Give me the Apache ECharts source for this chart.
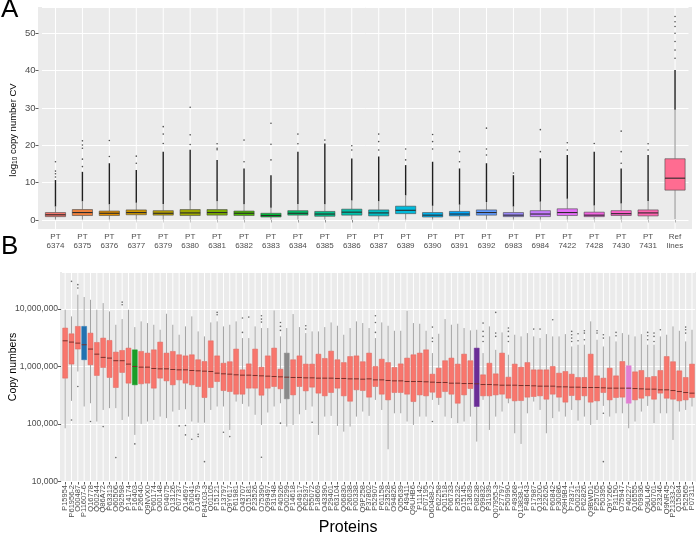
<!DOCTYPE html>
<html>
<head>
<meta charset="utf-8">
<script src="https://cdn.jsdelivr.net/npm/echarts@6/dist/echarts.min.js"></script>
<style>
html,body{margin:0;padding:0;background:#fff;}
#chart{width:696px;height:538px;}
</style>
</head>
<body>
<div id="chart"></div>
<script>
// ---------------- Panel A data ----------------
const catsA = ['PT 6374','PT 6375','PT 6376','PT 6377','PT 6379','PT 6380','PT 6381','PT 6382','PT 6383','PT 6384','PT 6385','PT 6386','PT 6387','PT 6389','PT 6390','PT 6391','PT 6392','PT 6983','PT 6984','PT 7422','PT 7428','PT 7430','PT 7431','Ref lines'];
// [lower whisker, Q1, median, Q3, upper whisker]
const statsA = [
  [0.1,0.9,1.4,2.0,3.6],[0.1,1.2,2.0,2.8,5.0],[0.1,1.2,1.8,2.4,4.2],[0.1,1.4,2.0,2.7,4.6],
  [0.1,1.3,1.8,2.5,4.3],[0.1,1.2,1.9,2.8,5.2],[0.1,1.3,2.0,2.8,5.0],[0.1,1.2,1.8,2.4,4.2],
  [0.1,0.8,1.2,1.8,3.3],[0.1,1.3,1.8,2.5,4.3],[0.1,1.0,1.6,2.3,4.2],[0.1,1.3,2.1,2.9,5.2],
  [0.1,1.1,1.9,2.7,5.0],[0.1,1.7,2.6,3.7,6.6],[0.1,0.8,1.3,2.0,3.8],[0.1,1.1,1.6,2.3,4.1],
  [0.1,1.3,2.0,2.7,4.8],[0.1,0.9,1.3,2.0,3.6],[0.1,0.9,1.6,2.5,4.9],[0.1,1.2,2.0,3.0,5.7],
  [0.1,0.9,1.3,2.1,3.9],[0.1,1.2,1.7,2.5,4.4],[0.1,1.1,1.9,2.7,5.1],[0.2,8.0,11.2,16.4,29.5]
];
// top of the densely packed outlier column
const denseTopA = [10.7,12.9,15.2,13.4,18.3,18.8,16.1,13.8,12.0,18.3,20.5,16.5,17.0,14.7,15.6,13.8,15.2,12.0,16.5,17.4,18.3,13.8,17.4,40.2];
// sparse outliers above the dense column
const sparseA = [
  [11.5,12.4,13.1,15.6],[14.3,16.3,19.2,20.1,21.2],[17.0,21.3],[15.2,17.1],
  [20.5,23.0,25.0],[20.2,22.8,30.2],[18.8,19.2,20.4],[15.6,21.4],
  [16.1,20.3,25.9],[20.4,23.0],[21.4],[18.75,19.9],
  [18.75,21.0,23.0],[16.1,19.0],[19.0,21.0,22.9],[15.6,18.3],
  [17.4,19.0,24.6],[12.6],[18.3,24.2],[18.75,20.7],
  [20.5],[15.2,18.3,23.8],[18.75,20.4],[43.3,45.5,47.8,50.0,51.8,53.1,54.5]
];

// ---------------- Panel B data ----------------
const proteins = ['P15954','P61956-2','O00487','P11607-6','Q16778','Q00244','Q86A72','P63313','O60506','Q92598',
  'P14174','P16403','P26640','Q9NVX0','P60174','O00148','P04075','Q13126','P07737','Q14697',
  'P30041','O14579','P84103-3','Q01105','P15121','P13797','Q9Y617','P61981','O43707','Q15181',
  'P23526','O75390','Q99497','P31948','P40926','O00299','P14618','Q04917','P62937','P55072',
  'P18669','O43390','P29401','P63104','Q06830','P26038','P00338','Q9P258','P37802','P52907',
  'P61158','P23528','O94826','Q05639','P49411','Q9UHB6','P11142','P07195','O60488-2','P62258',
  'Q01518','P06733','P35232','O15145','P13639','P08238','Q99832','P31939','Q07955-3','P27797',
  'P50990','P49368','Q13838-1','P48643','P17987','Q13200','P22626','P60842','P30086','Q9H9B4',
  'P78371','O00231','P62826','Q9BWD1','P25705','P50395','Q9Y266','P31150','O75947','P40227',
  'Q16555','P09936','Q9UL46','O60701','P23246','Q9NR45','P21333-2','Q15084','P52565','P07311'];
// [lower whisker, Q1, median, Q3, upper whisker] copy numbers
const statsB = [
  [83900,626000,2800000,4670000,9730000],[252000,1100000,2660000,3710000,7450000],[818000,2010000,2550000,4990000,17800000],[201000,1310000,2390000,4990000,16200000],[229000,1070000,2010000,3810000,14500000],
  [110000,697000,1640000,2620000,9730000],[175000,961000,1440000,3120000,12700000],[188000,643000,1400000,2840000,9100000],[188000,430000,1260000,1780000,5330000],[117000,786000,1260000,1900000,6690000],
  [134000,512000,1100000,2090000,9730000],[64300,479000,1000000,1950000,4850000],[100000,499000,973000,1830000,6100000],[110000,512000,973000,1710000,5700000],[117000,419000,923000,1950000,5330000],
  [134000,626000,910000,2660000,4360000],[126000,562000,910000,1710000,8290000],[164000,479000,886000,1830000,5330000],[175000,585000,874000,1600000,3570000],[180000,512000,874000,1530000,4990000],
  [110000,479000,851000,1600000,7450000],[105000,448000,840000,1310000,4080000],[105000,288000,829000,1220000,3340000],[175000,430000,818000,2800000,5850000],[201000,547000,765000,1530000,6100000],
  [201000,381000,745000,1140000,4990000],[78500,366000,735000,1210000,5330000],[245000,329000,716000,2010000,6100000],[223000,329000,706000,874000,3120000],[201000,419000,706000,1110000,3120000],
  [144000,419000,697000,2010000,4990000],[96000,316000,687000,973000,4670000],[158000,419000,678000,1530000,4670000],[201000,448000,669000,2090000,9480000],[229000,408000,660000,898000,3340000],
  [89800,273000,651000,1710000,4670000],[96000,320000,643000,1310000,8180000],[147000,448000,643000,1530000,4850000],[175000,376000,634000,1100000,3810000],[201000,436000,634000,1100000,4080000],
  [64300,343000,626000,1640000,4080000],[134000,308000,626000,1380000,4850000],[138000,352000,626000,1850000,5850000],[92200,419000,618000,1310000,5120000],[73400,308000,618000,1170000,3570000],
  [89800,248000,609000,1490000,4670000],[134000,392000,609000,1530000,6100000],[164000,381000,601000,1210000,5700000],[138000,292000,609000,1710000,4670000],[262000,448000,585000,1000000,3120000],
  [175000,329000,585000,1340000,5850000],[36100,262000,570000,1170000,5120000],[153000,352000,562000,961000,4190000],[153000,352000,562000,1110000,4190000],[110000,329000,547000,1400000,9350000],
  [96000,245000,547000,1600000,5700000],[134000,320000,547000,1710000,5550000],[134000,308000,541000,1950000,4190000],[262000,356000,533000,735000,1710000],[214000,288000,526000,935000,3710000],
  [134000,366000,526000,1260000,6690000],[126000,329000,512000,1400000,5330000],[103000,229000,512000,1100000,5550000],[110000,320000,505000,1640000,4670000],[134000,413000,505000,1260000,4250000],
  [49200,201000,499000,2090000,4360000],[262000,308000,485000,716000,1710000],[78500,308000,485000,1140000,4990000],[134000,320000,479000,745000,1950000],[164000,329000,472000,1710000,3920000],
  [229000,280000,472000,651000,1600000],[68700,252000,472000,1100000,3570000],[44800,255000,466000,973000,3340000],[153000,292000,466000,1170000,3810000],[245000,300000,460000,874000,3340000],
  [175000,308000,454000,874000,3120000],[68700,269000,454000,874000,3660000],[126000,329000,454000,1000000,3340000],[164000,292000,442000,765000,3340000],[134000,239000,442000,818000,3660000],
  [175000,312000,436000,735000,2230000],[114000,262000,436000,643000,2390000],[134000,308000,430000,643000,2390000],[96000,239000,430000,1640000,6100000],[117000,252000,430000,687000,2920000],
  [206000,352000,425000,626000,2230000],[134000,262000,419000,935000,3340000],[153000,288000,419000,687000,2730000],[153000,292000,419000,1220000,3810000],[83900,229000,419000,1030000,3570000],
  [110000,262000,413000,807000,3340000],[164000,280000,408000,851000,3660000],[206000,308000,403000,643000,2390000],[103000,269000,403000,669000,2390000],[153000,343000,392000,851000,3340000],
  [153000,280000,392000,1490000,3570000],[52600,269000,381000,1210000,4990000],[164000,252000,366000,840000,4190000],[175000,262000,352000,643000,2730000],[201000,288000,343000,1100000,4360000]
];
// outliers: [protein index (0-based), copy number]
const outliersB = [
  [1,30400000],[1,117000],[2,26600000],[2,23200000],[2,448000],[4,110000],[6,89800],[8,25900],[9,13200000],[9,11900000],
  [11,44800],[18,92200],[19,93500],[19,64300],[20,54000],[21,66100],[21,60100],[22,22000],[24,8750000],[24,7960000],
  [25,71500],[26,60100],[28,6970000],[28,3920000],[29,7250000],[31,7650000],[31,6690000],[31,5930000],[31,26200],
  [34,5850000],[34,4990000],[34,4250000],[34,103000],[38,5120000],[38,4480000],[39,107000],
  [49,7650000],[49,5850000],[49,3920000],[58,4850000],[58,3120000],[58,2730000],[58,110000],
  [66,5700000],[66,4080000],[66,3340000],[66,2730000],[68,8750000],[68,3810000],[68,3340000],
  [70,4670000],[70,4080000],[70,3340000],[70,2730000],[74,4480000],[75,4480000],[77,6520000],
  [80,4080000],[80,3570000],[80,3120000],[80,2730000],[81,3710000],[81,2800000],[82,4190000],[82,3810000],[82,2920000],
  [84,4190000],[84,3810000],[85,3570000],[85,3120000],[85,153000],[85,22000],[87,3920000],[87,3430000],
  [92,3920000],[92,3430000],[92,2920000],[93,3810000],[93,3340000],[93,2730000],[94,4360000],
  [98,4850000],[98,4360000],[98,3810000]
];
// highlighted proteins (index -> fill)
const highlightB = {3:'#2272b0', 11:'#1a9d27', 35:'#8a8a8a', 65:'#6a2d96', 89:'#e07fd3'};

// ---------------- helpers ----------------
function hcl(h, c, l) {
  const hr = h * Math.PI / 180;
  const U = c * Math.cos(hr), V = c * Math.sin(hr);
  const Xn = 95.047, Yn = 100, Zn = 108.883;
  const Y = l > 8 ? Yn * Math.pow((l + 16) / 116, 3) : Yn * l / 903.3;
  const t = Xn + 15 * Yn + 3 * Zn;
  const un = 4 * Xn / t, vn = 9 * Yn / t;
  const u = U / (13 * l) + un, v = V / (13 * l) + vn;
  const X = 9 * Y * u / (4 * v);
  const Z = -X / 3 - 5 * Y + 3 * Y / v;
  const x = X / 100, y = Y / 100, z = Z / 100;
  const lin = [3.240479*x - 1.537150*y - 0.498535*z, -0.969256*x + 1.875992*y + 0.041556*z, 0.055648*x - 0.204043*y + 1.057311*z];
  return '#' + lin.map(ch => {
    let g = ch <= 0.0031308 ? 12.92 * ch : 1.055 * Math.pow(ch, 1 / 2.4) - 0.055;
    g = Math.max(0, Math.min(1, g));
    return Math.round(g * 255).toString(16).padStart(2, '0');
  }).join('');
}
const colorsA = catsA.map((c, i) => hcl(15 + 15 * i, 100, 65));

function boxRender(stats, fill, st) {
  return function (params, api) {
    const i = params.dataIndex;
    const s = stats[i];
    const band = params.coordSys.width / stats.length;
    const w = band * st.ratio;
    const p = v => api.coord([i, v]);
    const lo = p(s[0]), q1 = p(s[1]), md = p(s[2]), q3 = p(s[3]), hi = p(s[4]);
    const x = md[0];
    return { type: 'group', children: [
      { type: 'line', shape: { x1: x, y1: hi[1], x2: x, y2: q3[1] }, style: { stroke: st.whisker, lineWidth: st.wl } },
      { type: 'line', shape: { x1: x, y1: q1[1], x2: x, y2: lo[1] }, style: { stroke: st.whisker, lineWidth: st.wl } },
      { type: 'rect', shape: { x: x - w / 2, y: q3[1], width: w, height: q1[1] - q3[1] }, style: { fill: fill(i), stroke: st.border(i), lineWidth: st.bw } },
      { type: 'line', shape: { x1: x - w / 2, y1: md[1], x2: x + w / 2, y2: md[1] }, style: { stroke: st.median, lineWidth: st.ml } }
    ] };
  };
}
function vGridRender(stats) {
  return function (params, api) {
    const i = params.dataIndex;
    const cs = params.coordSys;
    const x = api.coord([i, stats[i][2]])[0];
    return { type: 'line', shape: { x1: x, y1: cs.y, x2: x, y2: cs.y + cs.height }, style: { stroke: '#ffffff', lineWidth: 1 } };
  };
}

const FONT = 'Liberation Sans';
const fmtComma = v => {
  const e = Math.log10(v);
  if (Math.abs(e - Math.round(e)) > 1e-6) return '';
  return Math.round(v).toLocaleString('en-US');
};

const outAData = [];
sparseA.forEach((arr, i) => arr.forEach(v => outAData.push([i, v])));

const option = {
  animation: false,
  textStyle: { fontFamily: FONT },
  graphic: [
    { type: 'rect', shape: { x: 38, y: 7, width: 654, height: 222 }, style: { fill: '#ebebeb' }, z: -100 },
    { type: 'rect', shape: { x: 60, y: 272, width: 636, height: 210 }, style: { fill: '#ebebeb' }, z: -100 },
    { type: 'text', style: { text: 'A', x: 1, y: 10, font: 'normal 26px Liberation Sans', fill: '#000', verticalAlign: 'middle' } },
    { type: 'text', style: { text: 'B', x: 1, y: 247, font: 'normal 26px Liberation Sans', fill: '#000', verticalAlign: 'middle' } }
  ],
  grid: [
    { left: 41.5, right: 7.5, top: 7, height: 222 },
    { left: 61, right: 0, top: 272, height: 210 }
  ],
  xAxis: [
    { type: 'category', gridIndex: 0, data: catsA, boundaryGap: true,
      axisLine: { show: false }, axisTick: { show: true, alignWithLabel: true, length: 2.5, lineStyle: { color: '#333', width: 0.8 } },
      splitLine: { show: false },
      axisLabel: { interval: 0, fontSize: 8, lineHeight: 9.5, color: '#4d4d4d', margin: 3, fontFamily: FONT,
        formatter: v => v.replace(' ', '\n') } },
    { type: 'category', gridIndex: 1, data: proteins, boundaryGap: true,
      name: 'Proteins', nameLocation: 'middle', nameGap: 38, nameMoveOverlap: false,
      nameTextStyle: { fontSize: 16, color: '#000', fontFamily: FONT, padding: [0, 61, 0, 0] },
      axisLine: { show: false }, axisTick: { show: true, alignWithLabel: true, length: 2.5, lineStyle: { color: '#333', width: 0.8 } },
      splitLine: { show: false },
      axisLabel: { interval: 0, rotate: 90, fontSize: 7.5, color: '#4d4d4d', margin: 3, fontFamily: FONT } }
  ],
  yAxis: [
    { type: 'value', gridIndex: 0, min: -2.41, max: 57.04, offset: 3.5,
      name: '{a|log}{b|10}{a| copy number CV}', nameLocation: 'middle', nameGap: 20, nameMoveOverlap: false,
      nameTextStyle: { color: '#000', fontFamily: FONT, padding: [0, 24, 0, 0],
        rich: { a: { fontSize: 9.5, fontFamily: FONT, color: '#000' }, b: { fontSize: 6.5, fontFamily: FONT, color: '#000', verticalAlign: 'bottom', padding: [4, 0, 0, 0] } } },
      axisLine: { show: false }, axisTick: { show: true, length: 3, lineStyle: { color: '#333', width: 0.8 } },
      splitLine: { show: true, lineStyle: { color: '#ffffff', width: 1 } },
      axisLabel: { fontSize: 9.5, color: '#4d4d4d', margin: 3, showMinLabel: false, showMaxLabel: false, fontFamily: FONT } },
    { type: 'log', gridIndex: 1, logBase: 10, min: 9730, max: 44200000, offset: 1,
      name: 'Copy numbers', nameLocation: 'middle', nameGap: 42, nameMoveOverlap: false,
      nameTextStyle: { fontSize: 10.5, color: '#000', fontFamily: FONT, padding: [0, 0, 0, 20] },
      axisLine: { show: false }, axisTick: { show: true, length: 3, lineStyle: { color: '#333', width: 0.8 } },
      splitLine: { show: true, lineStyle: { color: '#ffffff', width: 1 } },
      axisLabel: { fontSize: 8.6, color: '#4d4d4d', margin: 3, showMinLabel: false, showMaxLabel: false, fontFamily: FONT, formatter: fmtComma } }
  ],
  series: [
    // vertical grid lines A
    { type: 'custom', xAxisIndex: 0, yAxisIndex: 0, z: 1, silent: true,
      data: statsA.map((s, i) => [i, s[2]]), encode: { x: 0, y: 1 }, renderItem: vGridRender(statsA) },
    // vertical grid lines B
    { type: 'custom', xAxisIndex: 1, yAxisIndex: 1, z: 1, silent: true,
      data: statsB.map((s, i) => [i, s[2]]), encode: { x: 0, y: 1 }, renderItem: vGridRender(statsB) },
    // dense outlier columns A
    { type: 'custom', xAxisIndex: 0, yAxisIndex: 0, z: 3, silent: true,
      data: statsA.map((s, i) => [i, s[4], denseTopA[i]]), encode: { x: 0, y: [1, 2] },
      renderItem: function (params, api) {
        const i = params.dataIndex;
        const a = api.coord([i, api.value(1)]), b = api.coord([i, api.value(2)]);
        return { type: 'line', shape: { x1: a[0], y1: a[1], x2: b[0], y2: b[1] }, style: { stroke: '#1f1f1f', lineWidth: 1.4 } };
      } },
    // boxes A
    { type: 'custom', xAxisIndex: 0, yAxisIndex: 0, z: 4,
      data: statsA.map((s, i) => [i, s[0], s[4]]), encode: { x: 0, y: [1, 2] },
      renderItem: boxRender(statsA, i => colorsA[i], { ratio: 0.75, whisker: '#6e6e6e', wl: 0.8, border: () => '#4a4a4a', bw: 0.6, median: '#2b2b2b', ml: 1.1 }) },
    // sparse outliers A
    { type: 'scatter', xAxisIndex: 0, yAxisIndex: 0, z: 5, symbolSize: 1.6, itemStyle: { color: '#222' }, data: outAData },
    // boxes B
    { type: 'custom', xAxisIndex: 1, yAxisIndex: 1, z: 4,
      data: statsB.map((s, i) => [i, s[0], s[4]]), encode: { x: 0, y: [1, 2] },
      renderItem: boxRender(statsB, i => highlightB[i] || '#f8766d',
        { ratio: 0.78, whisker: '#a3a3a3', wl: 1, border: i => highlightB[i] ? highlightB[i] : '#d9665e', bw: 0.5, median: '#7a302b', ml: 1 }) },
    // outliers B
    { type: 'scatter', xAxisIndex: 1, yAxisIndex: 1, z: 5, symbolSize: 1.6, itemStyle: { color: '#444' }, data: outliersB }
  ]
};

const chart = echarts.init(document.getElementById('chart'), null, { renderer: 'canvas' });
chart.setOption(option);
</script>
</body>
</html>
